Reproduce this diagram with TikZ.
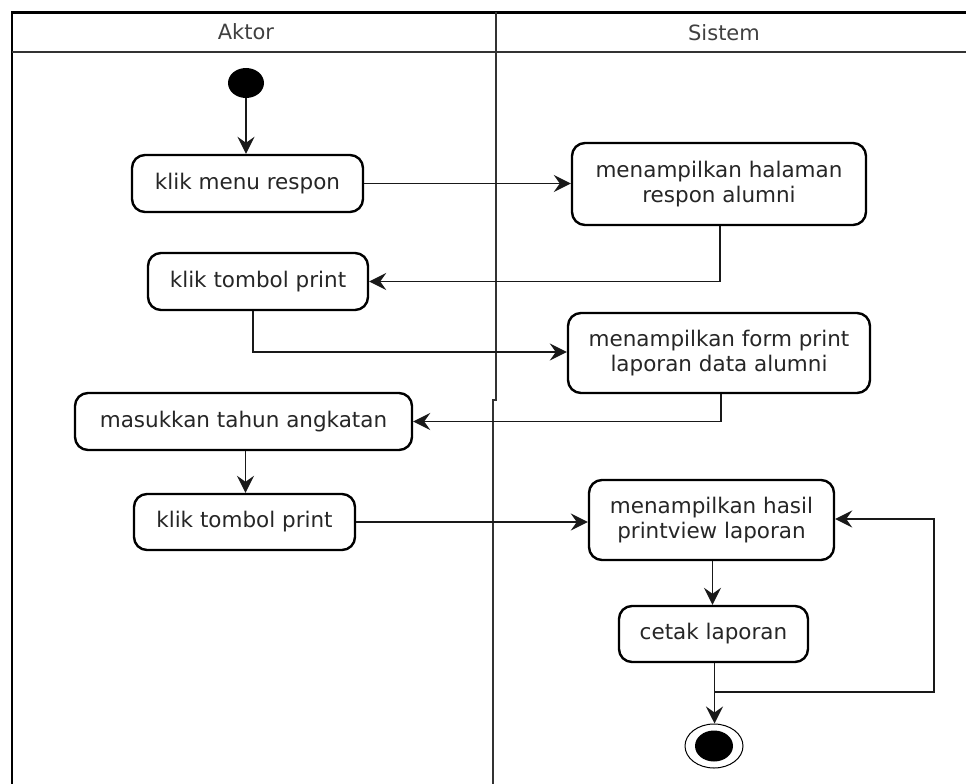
\documentclass[tikz,border=0pt]{standalone}
\usepackage{fontspec}
\setmainfont{DejaVu Sans}
\usetikzlibrary{arrows.meta,shapes.geometric}
\tikzset{
  act/.style={draw=black, line width=2.4pt, rounded corners=13pt, fill=white,
    align=center, inner sep=0pt, text=black!85,
    font=\fontsize{21.5}{25}\selectfont},
  flow/.style={draw=black!90, line width=1.6pt,
    -{Stealth[length=17pt,width=17pt,inset=6pt]}},
  lane/.style={draw=black!80, line width=2pt},
  lanetitle/.style={text=black!75, font=\fontsize{21}{25}\selectfont},
}
\begin{document}
\begin{tikzpicture}[x=1pt,y=-1pt]
\useasboundingbox (0,0) rectangle (966,784);

% swimlane frame
\draw[lane, line width=2.6pt, draw=black] (12,784) -- (12,12.5) -- (966,12.5);
\draw[lane] (12,52) -- (966,52);
\draw[lane] (496,12) -- (496,400) -- (493,400) -- (493,784);
\node[lanetitle] (laneA) at (246,32) {Aktor};
\node[lanetitle] (laneS) at (724,33) {Sistem};

% start and end
\node[ellipse, fill=black, minimum width=36pt, minimum height=30pt, inner sep=0pt] (start) at (246,83) {};
\node[ellipse, draw=black, line width=1pt, minimum width=58pt, minimum height=44pt, inner sep=0pt] (stop) at (714,746) {};
\node[ellipse, fill=black, minimum width=38pt, minimum height=31pt, inner sep=0pt] (stopdot) at (714,746) {};

% actions of the actor
\node[act, minimum width=231pt, minimum height=57pt] (n1) at (247.5,183.5) {klik menu respon};
\node[act, minimum width=220pt, minimum height=57pt] (n2) at (258,281.5) {klik tombol print};
\node[act, minimum width=337pt, minimum height=57pt] (n3) at (243.5,421.5) {masukkan tahun angkatan};
\node[act, minimum width=221pt, minimum height=56pt] (n4) at (244.5,522) {klik tombol print};

% actions of the system
\node[act, minimum width=294pt, minimum height=82pt] (s1) at (719,184) {menampilkan halaman\\respon alumni};
\node[act, minimum width=302pt, minimum height=80pt] (s2) at (719,353) {menampilkan form print\\laporan data alumni};
\node[act, minimum width=245pt, minimum height=80pt] (s3) at (711.5,520) {menampilkan hasil\\printview laporan};
\node[act, minimum width=189pt, minimum height=56pt] (s4) at (713.5,634) {cetak laporan};

\coordinate (loop) at (934,692);

% control flow
\draw[flow] (start) -- (start |- n1.north);
\draw[flow] (n1.east) -- (n1.east -| s1.west);
\draw[flow] ([xshift=1pt]s1.south) |- (n2.east);
\draw[flow] ([xshift=-5pt]n2.south) |- ([yshift=1pt]s2.west);
\draw[flow] ([xshift=2pt]s2.south) |- (n3.east);
\draw[flow] ([xshift=2pt]n3.south) -- ([xshift=2pt]n3.south |- n4.north);
\draw[flow] (n4.east) -- (n4.east -| s3.west);
\draw[flow] ([xshift=1pt]s3.south) -- ([xshift=1pt]s3.south |- s4.north);
\draw[flow] ([xshift=1pt]s4.south) -- ([xshift=1pt]s4.south |- stop.north);
\draw[flow] ([xshift=1pt]s4.south) |- (loop) |- ([yshift=1pt]s3.east);
\end{tikzpicture}
\end{document}
